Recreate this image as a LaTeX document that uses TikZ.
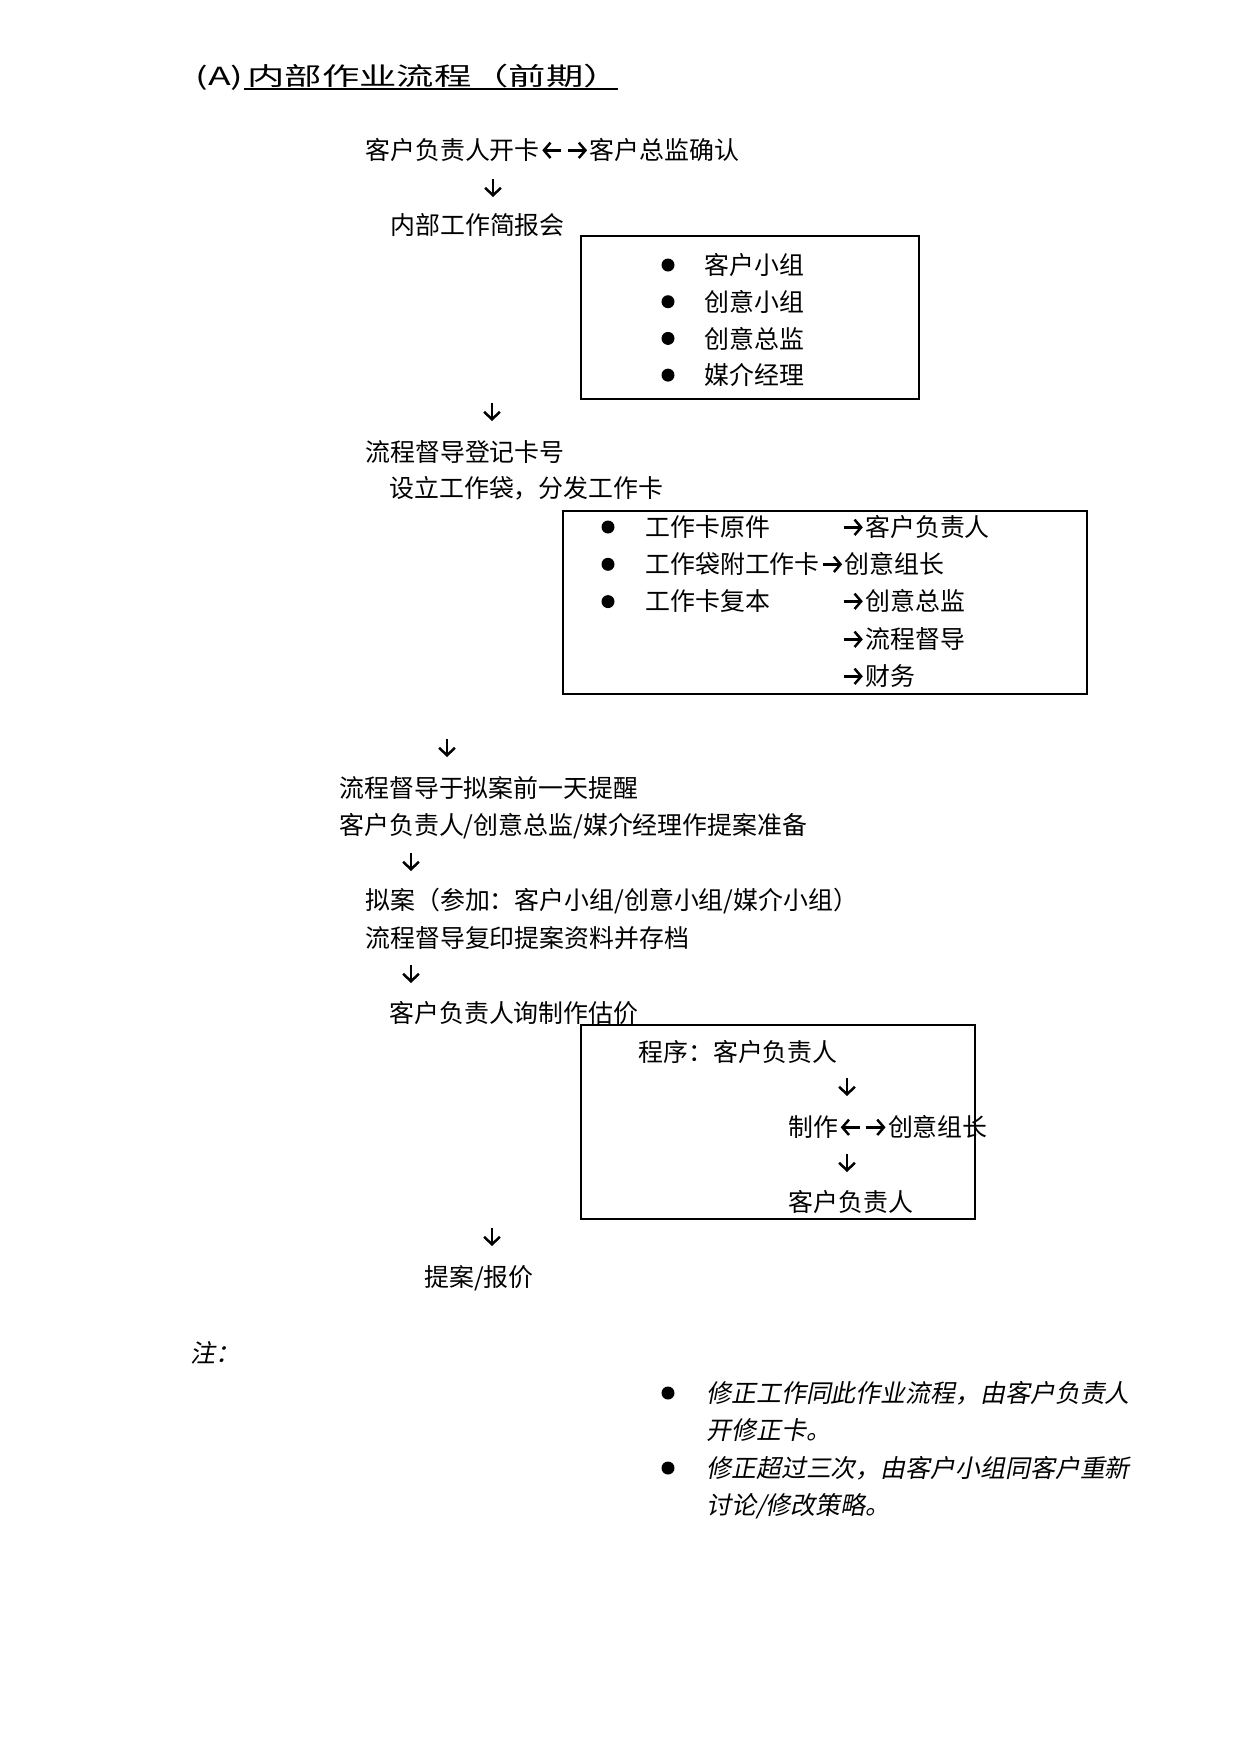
\documentclass[tikz,border=0pt]{standalone}
\usepackage{fontspec}
\setmainfont{Noto Sans CJK SC}
\newfontfamily\slantfont[FakeSlant=0.2]{Noto Sans CJK SC}
\usetikzlibrary{arrows.meta}

\tikzset{inl/.style={-{Straight Barb[length=3.2pt,width=7.4pt]},line width=1.2pt}}
\newcommand\arrR{\tikz[baseline=0pt,x=1pt,y=1pt]{\path (0,0) rectangle (12,0);
  \draw[inl] (1.6,4.6) -- (10.8,4.6);}}
\newcommand\arrL{\tikz[baseline=0pt,x=1pt,y=1pt]{\path (0,0) rectangle (12,0);
  \draw[inl] (10.4,4.6) -- (1.2,4.6);}}

\begin{document}
\begin{tikzpicture}[x=0.16933mm,y=-0.16933mm,
                    font=\fontsize{12pt}{18pt}\selectfont,
                    txt/.style={anchor=west,inner sep=0pt,text height=0.95em,text depth=0em},
                    dot/.style={circle,fill=black,inner sep=0pt,minimum size=2.2mm},
                    flow/.style={-{Straight Barb[length=3.6pt,width=7.6pt]},line width=1.2pt},
                    frame/.style={draw,line width=1pt}]
  \useasboundingbox (0,0) rectangle (1241,1754);

  % title
  \node[txt] (tag)   at (195,76) {\scalebox{1.5}[1]{(A)}};
  \node[txt] (title) at (247,76) {\scalebox{1.5}[1]{内部作业流程（前期）}};
  \draw[line width=0.6pt] (244,89) -- (618,89);

  % main steps
  \node[txt] (open)    at (365,150)  {客户负责人开卡\arrL\arrR 客户总监确认};
  \node[txt] (brief)   at (390,225)  {内部工作简报会};
  \node[txt] (log)     at (365,452)  {流程督导登记卡号};
  \node[txt] (bag)     at (389,488)  {设立工作袋，分发工作卡};
  \node[txt] (remind)  at (339,788)  {流程督导于拟案前一天提醒};
  \node[txt] (prep)    at (339,825)  {客户负责人/创意总监/媒介经理作提案准备};
  \node[txt] (draft)   at (365,900)  {拟案（参加：客户小组/创意小组/媒介小组）};
  \node[txt] (copy)    at (365,938)  {流程督导复印提案资料并存档};
  \node[txt] (quote)   at (389,1013) {客户负责人询制作估价};
  \node[txt] (present) at (424,1277) {提案/报价};

  % briefing members
  \draw[frame] (581,236) rectangle (919,399);
  \foreach \t [count=\i] in {客户小组,创意小组,创意总监,媒介经理} {
    \node[dot] (team-dot\i) at (668,{265+36.7*(\i-1)}) {};
    \node[txt] (team\i)     at (704,{265+36.7*(\i-1)}) {\t};
  }

  % card distribution
  \draw[frame] (563,511) rectangle (1087,694);
  \foreach \i in {1,2,3}
    \node[dot] (card-dot\i) at (608,{527+37.3*(\i-1)}) {};
  \node[txt] (card1) at (645,527)  {工作卡原件};
  \node[txt] (card2) at (645,564)  {工作袋附工作卡\arrR 创意组长};
  \node[txt] (card3) at (645,601)  {工作卡复本};
  \node[txt] (to1)   at (840,527)  {\arrR 客户负责人};
  \node[txt] (to3)   at (840,601)  {\arrR 创意总监};
  \node[txt] (to4)   at (840,639)  {\arrR 流程督导};
  \node[txt] (to5)   at (840,676)  {\arrR 财务};

  % estimate procedure
  \draw[frame] (581,1025) rectangle (975,1219);
  \node[txt] (proc)  at (638,1052) {程序：客户负责人};
  \node[txt] (make)  at (788,1127) {制作\arrL\arrR 创意组长};
  \node[txt] (back)  at (788,1202) {客户负责人};

  % down arrows
  \foreach \n/\x/\y in {a/493/188, b/492/412, c/447/748, d/411/862,
                        e/411/974, f/847/1087, g/847/1163, h/492/1237} {
    \coordinate (\n-top) at (\x,\y-9);
    \coordinate (\n-bot) at (\x,\y+9);
    \draw[flow] (\n-top) -- (\n-bot);
  }

  % notes
  \node[txt] (note) at (190,1353) {\slantfont 注：};
  \node[dot] (note-dot1) at (668,1393) {};
  \node[dot] (note-dot2) at (668,1468) {};
  \node[txt] (note1a) at (706,1393) {\slantfont 修正工作同此作业流程，由客户负责人};
  \node[txt] (note1b) at (706,1430) {\slantfont 开修正卡。};
  \node[txt] (note2a) at (706,1468) {\slantfont 修正超过三次，由客户小组同客户重新};
  \node[txt] (note2b) at (706,1505) {\slantfont 讨论/修改策略。};
\end{tikzpicture}
\end{document}
